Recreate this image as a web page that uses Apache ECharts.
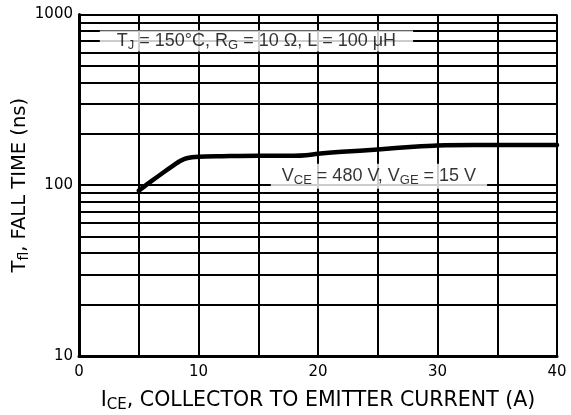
<!DOCTYPE html>
<html><head><meta charset="utf-8">
<script src="https://cdn.jsdelivr.net/npm/echarts@6/dist/echarts.min.js"></script>
<style>html,body{margin:0;padding:0;background:#fff}#c{width:571px;height:415px}</style>
</head><body><div id="c"></div>
<script>
const curveX = [5, 6, 7, 8, 8.5, 9, 10, 12, 15, 18, 19, 20, 22, 25, 28, 30, 33, 36, 40];
const curveY = [93, 105, 118, 132, 139, 144, 147, 148, 149, 149, 150, 153, 157, 162, 168, 171, 172, 172, 172];
const minorGrid = [20, 30, 40, 50, 60, 70, 80, 90, 200, 300, 400, 500, 600, 700, 800, 900];
const xTickLabels = [0, 10, 20, 30, 40];
const note1Pos = [14.85, 700];
const note2Pos = [25.1, 113];

const F = 'Arial';
const FA = 'DejaVu Sans';
const TXT = '#000';
const rich = {
  n: {fontSize: 18, fontFamily: F, color: TXT},
  s: {fontSize: 13, fontFamily: F, color: TXT, padding: [8, 0, 0, 0]}
};
const xNameRich = {
  n: {fontSize: 20.5, fontFamily: FA, color: TXT},
  s: {fontSize: 15, fontFamily: FA, color: TXT, padding: [9, 0, 0, 0]}
};
const yNameRich = {
  n: {fontSize: 19.5, fontFamily: FA, color: TXT},
  s: {fontSize: 14, fontFamily: FA, color: TXT, padding: [9, 0, 0, 0]}
};
const chart = echarts.init(document.getElementById('c'));
chart.setOption({
  animation: false,
  backgroundColor: '#fff',
  grid: {left: 79, right: 14, top: 14.5, bottom: 59, outerBoundsMode: 'none', containLabel: false},
  xAxis: {
    type: 'value', min: 0, max: 40, interval: 5,
    axisLine: {show: true, onZero: false, lineStyle: {color: '#000', width: 3}},
    axisTick: {show: false},
    splitLine: {show: true, lineStyle: {color: '#000', width: 2}},
    axisLabel: {
      fontSize: 15, fontFamily: FA, color: TXT, margin: 9,
      formatter: v => xTickLabels.indexOf(v) >= 0 ? String(v) : ''
    },
    name: '{n|I}{s|CE}{n|, COLLECTOR TO EMITTER CURRENT (A)}',
    nameLocation: 'middle', nameGap: 33, nameMoveOverlap: false,
    nameTextStyle: {fontSize: 20.5, fontFamily: FA, color: TXT, rich: xNameRich}
  },
  yAxis: {
    type: 'log', logBase: 10, min: 10, max: 1000,
    axisLine: {show: true, lineStyle: {color: '#000', width: 3}},
    axisTick: {show: false},
    splitLine: {show: true, lineStyle: {color: '#000', width: 2}},
    axisLabel: {fontSize: 15, fontFamily: FA, color: TXT, margin: 6, formatter: v => String(v)},
    name: '{n|T}{s|fl}{n|, FALL TIME (ns)}',
    nameLocation: 'middle', nameGap: 48, nameRotate: 90, nameMoveOverlap: false,
    nameTextStyle: {fontSize: 19.5, fontFamily: FA, color: TXT, rich: yNameRich}
  },
  series: [
    {
      type: 'line', data: [], z: 1, silent: true,
      markLine: {
        silent: true, symbol: ['none', 'none'], animation: false,
        label: {show: false},
        lineStyle: {color: '#000', width: 2, type: 'solid'},
        data: minorGrid.map(v => ({yAxis: v}))
      }
    },
    {
      type: 'line', z: 5, showSymbol: false, smooth: 0.3,
      lineStyle: {color: '#000', width: 4.5, cap: 'round', join: 'round'},
      data: curveX.map((x, i) => [x, curveY[i]])
    },
    {
      type: 'scatter', z: 10, symbolSize: 0, silent: true,
      data: [
        {value: note1Pos, label: {show: true, position: 'inside', fontSize: 18, fontFamily: F,
          formatter: '{n|T}{s|J}{n| = 150°C, R}{s|G}{n| = 10 Ω, L = 100 μH}',
          backgroundColor: '#fff', padding: [0, 17, 0, 17], rich: rich}},
        {value: note2Pos, label: {show: true, position: 'inside', fontSize: 18, fontFamily: F,
          formatter: '{n|V}{s|CE}{n| = 480 V, V}{s|GE}{n| = 15 V}',
          backgroundColor: '#fff', padding: [2, 11, 2, 11], rich: rich}}
      ]
    }
  ]
});
</script></body></html>
